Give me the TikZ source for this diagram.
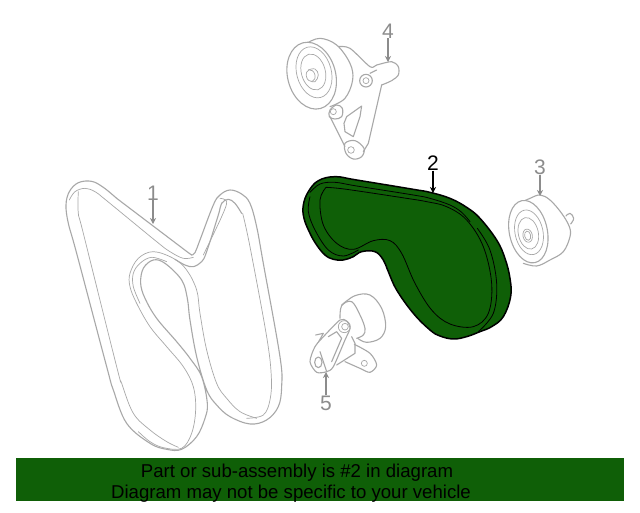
\documentclass[tikz,border=0pt]{standalone}
\usepackage{fontspec}
\setmainfont{Liberation Sans}
\definecolor{bannergreen}{HTML}{0F5F07}
\definecolor{partgray}{HTML}{A8A8A8}
\definecolor{labelgray}{HTML}{8C8C8C}
\usetikzlibrary{arrows.meta}
\tikzset{
 part/.style={draw=partgray,line width=1.1pt,line join=round,line cap=round},
 partthin/.style={draw=partgray,line width=0.7pt,line cap=round},
 cal/.style={font=\fontsize{21}{21}\selectfont,text=labelgray,inner sep=0pt},
 calarrow/.style={draw=labelgray,line width=1.1pt,-{Stealth[length=6pt,width=6pt]}},
 belt/.style={draw=black,line width=1pt,line cap=round,line join=round},
 bannertext/.style={font=\fontsize{18.6}{19}\selectfont,text=black,inner sep=0pt,anchor=base}
}
\begin{document}
\begin{tikzpicture}[x=1pt,y=-1pt]
\useasboundingbox (0,0) rectangle (640,512);
\fill[white] (0,0) rectangle (640,512);
% ---------- belt 1
\begin{scope}[shift={(50,170)},x=0.3333pt,y=-0.3333pt]
\draw[part] plot[smooth,tension=0.6] coordinates {(200,85)(160,52)(125,34)(85,38)(58,65)(48,105)(55,160)(80,250)(170,590)(190,660)(230,760)(300,820)(350,838)(395,838)(440,800)(465,745)(472,700)(455,620)(420,565)(380,515)(320,445)(285,385)(272,340)(280,295)(310,270)(345,280)(395,330)(412,385)(420,450)(440,560)(470,660)(500,705)(540,740)(600,762)(650,750)(685,710)(695,650)(690,560)(640,280)(620,170)(600,100)(575,72)(540,60)(510,75)(490,105)(450,210)(435,248)(425,255)};
\draw[part] (200,85)--(415,248)--(425,255);
\draw[part] plot[smooth,tension=0.6] coordinates {(375,268)(405,285)(430,290)(455,275)(470,245)(505,135)(515,100)(535,88)(555,100)(575,130)};
\draw[partthin] plot[smooth,tension=0.6] coordinates {(58,90)(75,65)(105,55)(135,65)(170,92)(320,215)(360,245)(400,265)(430,262)};
\draw[partthin] plot[smooth,tension=0.6] coordinates {(85,65)(85,130)(100,190)(200,590)(215,640)(250,730)(300,780)(350,815)(385,832)};
\draw[partthin] plot[smooth,tension=0.6] coordinates {(265,785)(300,815)(340,833)(395,835)(425,790)(437,720)(430,650)(400,590)(350,530)(300,470)(260,400)(240,350)(240,310)(265,265)(310,245)(370,265)(410,300)(440,360)(450,430)(470,540)(500,640)(530,685)(570,725)(620,745)};
\draw[partthin] plot[smooth,tension=0.6] coordinates {(270,400)(250,350)(250,310)(270,280)(305,262)(350,275)};
\draw[partthin] plot[smooth,tension=0.6] coordinates {(510,85)(530,95)(515,140)(460,255)};
\draw[partthin] plot[smooth,tension=0.6] coordinates {(578,130)(600,230)(650,500)(664,620)(660,690)(640,735)(590,745)};
\end{scope}
% ---------- belt 2
\begin{scope}[shift={(290,150)},x=0.3333pt,y=-0.3333pt]
\draw[belt,fill=bannergreen,line width=1.5pt] plot[smooth cycle,tension=0.65] coordinates {(135,80)(200,90)(370,118)(420,127)(480,145)(530,172)(570,205)(620,270)(645,325)(660,385)(662,440)(640,500)(605,530)(570,545)(530,560)(490,567)(450,558)(420,540)(370,490)(320,420)(295,365)(280,330)(255,305)(215,305)(190,320)(160,330)(130,328)(105,315)(80,285)(60,250)(42,205)(40,165)(55,125)(85,92)};
\draw[belt,line width=0.8pt] plot[smooth,tension=0.6] coordinates {(60,127)(90,102)(135,97)(200,108)(370,135)(420,145)(480,165)(515,187)(540,215)};
\draw[belt,line width=0.8pt] plot[smooth,tension=0.6] coordinates {(60,140)(55,185)(75,240)(115,300)(160,318)(205,300)};
\draw[belt,line width=0.8pt] plot[smooth,tension=0.6] coordinates {(108,112)(90,150)(100,225)(140,280)(190,298)(250,272)(300,272)(335,310)(375,400)(425,480)(480,522)(550,530)(595,490)(605,400)(580,290)(530,210)(470,170)(410,155)(350,145)(170,118)(108,112)};
\draw[belt,line width=0.8pt] plot[smooth,tension=0.6] coordinates {(562,235)(600,300)(620,400)(610,490)(565,545)};
\end{scope}
% ---------- part 3
\begin{scope}[shift={(500,180)},x=0.3333pt,y=-0.3333pt]
\draw[part] plot[smooth,tension=0.7] coordinates {(198,108)(210,100)(221,115)(212,132)};
\draw[part,fill=white] plot[smooth,tension=0.6] coordinates {(58,70)(90,55)(120,45)(150,60)(185,100)(208,140)(210,170)(190,215)(150,240)(110,258)(70,250)};
\draw[part,fill=white,rotate around={12:(85,155)}] (85,155) ellipse (57 and 95);
\draw[partthin,rotate around={12:(87,157)}] (87,157) ellipse (42 and 68);
\draw[partthin,rotate around={12:(85,160)}] (85,160) ellipse (30 and 48);
\draw[partthin,rotate around={12:(83,167)}] (83,167) ellipse (14 and 20);
\draw[partthin,rotate around={12:(83,167)}] (83,167) ellipse (9 and 14);
\end{scope}
% ---------- part 4
\begin{scope}[shift={(270,10)},x=0.3333pt,y=-0.3333pt]
\draw[part] plot[smooth,tension=0.5] coordinates {(205,110)(240,115)(300,170)(320,165)(365,155)(385,170)(385,195)(365,212)(335,225)};
\draw[part] (335,225)--(295,400)--(280,425) (180,320)--(225,410);
\draw[part] plot[smooth cycle,tension=0.6] coordinates {(225,400)(255,392)(282,415)(275,440)(250,447)(228,430)};
\draw[partthin] (243,420) circle[radius=10];
\draw[part] plot coordinates {(230,320)(275,288)(270,320)(250,380)(225,365)(222,340)(230,320)};
\draw[part] plot[smooth cycle,tension=0.6] coordinates {(180,300)(200,285)(217,295)(215,320)(195,327)(178,320)};
\draw[partthin] (190,305) circle[radius=9];
\draw[part,fill=white] (288,212) circle[radius=19];
\draw[partthin] (288,212) circle[radius=9];
\draw[part] (320,180)--(300,190);
\draw[part,fill=white] plot[smooth,tension=0.6] coordinates {(110,100)(150,85)(200,105)(240,160)(248,210)(225,265)(180,290)};
\draw[part,fill=white,rotate around={15:(125,197)}] (125,197) ellipse (72 and 102);
\draw[partthin,rotate around={15:(132,187)}] (132,187) ellipse (52 and 78);
\draw[partthin,rotate around={15:(130,186)}] (130,186) ellipse (36 and 55);
\draw[partthin] plot[smooth,tension=0.7] coordinates {(115,180)(135,177)(145,195)(135,215)(122,213)};
\draw[partthin,fill=white,rotate around={15:(122,197)}] (122,197) ellipse (13 and 18);
\end{scope}
% ---------- part 5
\begin{scope}[shift={(295,285)},x=0.3333pt,y=-0.3333pt]
\draw[part] plot[smooth,tension=0.6] coordinates {(140,60)(180,32)(225,30)(260,70)(272,125)(255,160)(215,172)(188,160)};
\draw[part] plot[smooth,tension=0.6] coordinates {(135,100)(140,62)(170,50)(195,90)(210,130)(205,150)(185,160)};
\draw[part] plot[smooth,tension=0.5] coordinates {(178,178)(225,205)(245,240)(225,262)(195,250)(150,230)};
\draw[partthin] (208,235) circle[radius=9];
\draw[part,fill=white] (62,150)--(85,145)--(60,190);
\draw[part,fill=white] plot[smooth cycle,tension=0.45] coordinates {(135,105)(155,108)(165,130)(150,165)(115,245)(95,260)(65,262)(45,230)(60,185)(90,150)};
\draw[partthin] (150,125) circle[radius=10];
\draw[partthin] (148,125) circle[radius=18];
\draw[part] (70,232) ellipse (11 and 16);
\draw[part] (75,200)--(95,260) (100,155)--(125,140)--(140,160)--(110,230) (170,155)--(180,175)--(180,205)--(125,240);
\end{scope}
% ---------- labels
\node[cal] (c4) at (388,31) {4};
\coordinate (t4) at (388,62);
\draw[calarrow] (c4) -- (t4);
\node[cal] (c1) at (153,193) {1};
\coordinate (t1) at (153,224);
\draw[calarrow] (c1) -- (t1);
\node[cal] (c3) at (540,167) {3};
\coordinate (t3) at (540,196);
\draw[calarrow] (c3) -- (t3);
\node[cal] (c5) at (326,403) {5};
\coordinate (t5) at (326,372);
\draw[calarrow] (c5) -- (t5);
\node[cal,text=black] (c2) at (433,163) {2};
\coordinate (t2) at (433,193);
\draw[calarrow,draw=black] (c2) -- (t2);
% ---------- banner
\fill[bannergreen] (16,458) rectangle (624,501);
\node[bannertext] (l1) at (297,477) {Part or sub-assembly is \#2 in diagram};
\node[bannertext] (l2) at (291,498) {Diagram may not be specific to your vehicle};
\end{tikzpicture}
\end{document}
